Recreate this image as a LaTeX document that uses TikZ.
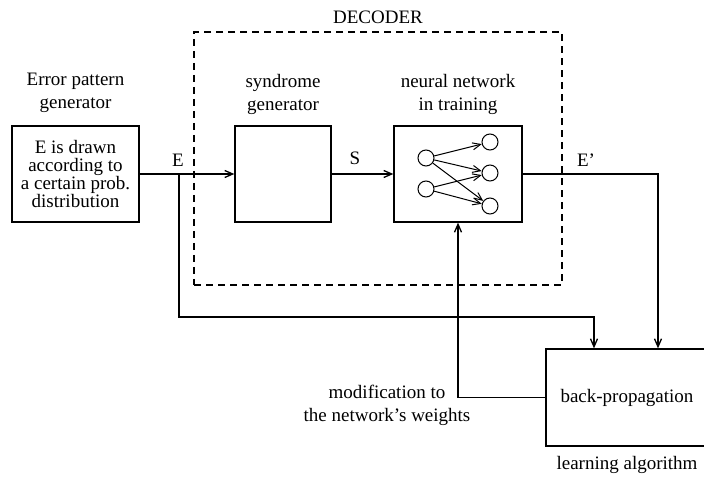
\documentclass[tikz,border=0pt]{standalone}
\usepackage{fontspec}
\setmainfont{Liberation Serif}
\usetikzlibrary{arrows.meta,positioning}

\begin{document}
\begin{tikzpicture}[x=1pt,y=-1pt,line width=1.3pt,
    font=\fontsize{19}{23}\selectfont,
    blk/.style={draw,rectangle,inner sep=0pt},
    lbl/.style={align=center,inner sep=0pt},
    neuron/.style={draw,circle,minimum size=16pt,inner sep=0pt,line width=1pt},
    >={Straight Barb[length=8pt,width=7pt]}]
    \useasboundingbox (0,0) rectangle (704,478);
    % decoder frame
    \node[blk,dashed,dash pattern=on 7pt off 5pt,minimum width=368pt,minimum height=253pt] (decoder) at (378,158.5) {};
    \node[lbl] (dectitle) at (378,17) {DECODER};
    % blocks
    \node[blk,minimum width=127pt,minimum height=96pt,align=center,font=\fontsize{19}{18}\selectfont] (errbox) at (75.5,174)
        {E is drawn\\according to\\a certain prob.\\distribution};
    \node[lbl] (errtitle) at (75.5,93) {Error pattern\\generator};
    \node[blk,minimum width=96pt,minimum height=96pt] (synbox) at (283,174) {};
    \node[lbl] (syntitle) at (283,94) {syndrome\\generator};
    \node[blk,minimum width=128pt,minimum height=96pt] (nnbox) at (458,174) {};
    \node[lbl] (nntitle) at (458,94) {neural network\\in training};
    \node[blk,minimum width=162pt,minimum height=97pt] (bpbox) at (627,397.5) {back-propagation};
    \node[lbl] (bptitle) at (627,465) {learning algorithm};
    % small network
    \node[neuron] (in1) at (426,158) {};
    \node[neuron] (in2) at (426,189) {};
    \node[neuron] (out1) at (490,142) {};
    \node[neuron] (out2) at (490,173) {};
    \node[neuron] (out3) at (490,206) {};
    \foreach \o in {out1,out2,out3}
        \draw[->,line width=1pt] (in1) -- (\o);
    \foreach \o in {out2,out3}
        \draw[->,line width=1pt] (in2) -- (\o);
    % signals
    \coordinate (ejoin) at (179,174);
    \coordinate (eturn) at (179,317);
    \coordinate (eout) at (658,174);
    \coordinate (wturn) at (458,397.5);
    \draw[->] (errbox) -- (synbox);
    \draw[->] (synbox) -- (nnbox);
    \draw[->] (ejoin) -- (eturn) -| ([xshift=-33pt]bpbox.north);
    \draw[->] (nnbox.east) -- (eout) -- (eout |- bpbox.north);
    \draw[->] (bpbox.west) -- (wturn) -- (nnbox.south);
    \node[lbl] (elbl) at (178,160) {E};
    \node[lbl] (slbl) at (355,158) {S};
    \node[lbl] (eplbl) at (586,160) {E'};
    \node[lbl] (wlbl) at (387,405) {modification to\\the network's weights};
\end{tikzpicture}
\end{document}
